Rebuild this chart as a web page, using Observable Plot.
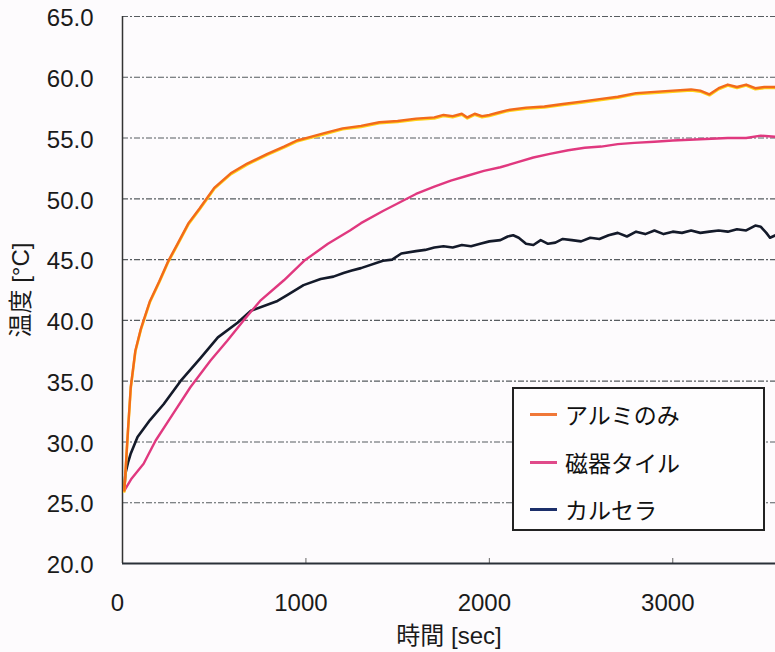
<!DOCTYPE html>
<html>
<head>
<meta charset="utf-8">
<script src="https://cdn.jsdelivr.net/npm/d3@7"></script>
<script src="https://cdn.jsdelivr.net/npm/@observablehq/plot@0.6"></script>
<style>
  html, body { margin: 0; padding: 0; background: #fdfbfd; overflow: hidden; }
  #wrap { position: relative; width: 775px; height: 652px; }
  #legend {
    position: absolute; left: 512px; top: 387px; width: 249px; height: 140px;
    border: 2px solid #222; background: #fefdfe;
    font-family: "Noto Sans CJK JP", "Liberation Sans", sans-serif; font-size: 23px; color: #111;
  }
  .item { position: absolute; left: 16px; display: flex; align-items: center; height: 30px; }
  .swatch { width: 27px; height: 3px; margin-right: 8px; }
</style>
</head>
<body>
<div id="wrap"><div id="chart"></div><div id="legend"></div></div>
<script>
// ---- data ----
const seriesNames = ["アルミのみ", "磁器タイル", "カルセラ"];
const seriesColors = ["#f26a1b", "#e0387f", "#141a2a"];
const legendColors = ["#f07838", "#e04a8a", "#1c2f6a"];

const alumiTime = [10, 20, 30, 45, 70, 100, 115, 150, 200, 250, 300, 360, 420, 500, 590, 680, 790, 880, 950, 1000, 1100, 1200, 1300, 1400, 1500, 1600, 1700, 1750, 1800, 1850, 1880, 1920, 1960, 2000, 2050, 2100, 2200, 2300, 2400, 2500, 2600, 2700, 2800, 2900, 3000, 3100, 3150, 3200, 3250, 3300, 3350, 3400, 3450, 3500, 3560];
const alumiTemp = [26.0, 28.5, 31.0, 34.5, 37.5, 39.3, 40.0, 41.6, 43.2, 44.9, 46.3, 48.0, 49.2, 50.9, 52.1, 52.9, 53.7, 54.3, 54.8, 55.0, 55.4, 55.8, 56.0, 56.3, 56.4, 56.6, 56.7, 56.9, 56.8, 57.0, 56.7, 57.0, 56.8, 56.9, 57.1, 57.3, 57.5, 57.6, 57.8, 58.0, 58.2, 58.4, 58.7, 58.8, 58.9, 59.0, 58.9, 58.6, 59.1, 59.4, 59.2, 59.4, 59.1, 59.2, 59.2];

const tileTime = [10, 50, 115, 180, 262, 370, 480, 570, 660, 750, 880, 990, 1120, 1240, 1300, 1420, 1510, 1600, 1700, 1790, 1880, 1970, 2060, 2150, 2240, 2330, 2430, 2520, 2610, 2700, 2790, 2900, 3000, 3150, 3300, 3400, 3480, 3560];
const tileTemp = [26.0, 27.0, 28.2, 30.1, 32.0, 34.5, 36.7, 38.3, 40.0, 41.6, 43.3, 44.9, 46.3, 47.4, 48.0, 49.0, 49.7, 50.4, 51.0, 51.5, 51.9, 52.3, 52.6, 53.0, 53.4, 53.7, 54.0, 54.2, 54.3, 54.5, 54.6, 54.7, 54.8, 54.9, 55.0, 55.0, 55.2, 55.1];

const carTime = [10, 16, 30, 44, 82, 150, 224, 316, 425, 520, 627, 700, 845, 900, 987, 1080, 1150, 1205, 1250, 1300, 1420, 1470, 1520, 1600, 1650, 1700, 1750, 1800, 1850, 1900, 1950, 2000, 2060, 2100, 2130, 2160, 2200, 2240, 2280, 2320, 2360, 2400, 2450, 2500, 2550, 2600, 2650, 2700, 2750, 2800, 2850, 2900, 2950, 3000, 3050, 3100, 3150, 3200, 3250, 3300, 3350, 3400, 3450, 3480, 3510, 3530, 3560];
const carTemp = [26.2, 27.4, 28.3, 29.0, 30.4, 31.8, 33.1, 35.0, 36.9, 38.6, 39.8, 40.8, 41.6, 42.1, 42.9, 43.4, 43.6, 43.9, 44.1, 44.3, 44.9, 45.0, 45.5, 45.7, 45.8, 46.0, 46.1, 46.0, 46.2, 46.1, 46.3, 46.5, 46.6, 46.9, 47.0, 46.8, 46.3, 46.2, 46.6, 46.3, 46.4, 46.7, 46.6, 46.5, 46.8, 46.7, 47.0, 47.2, 46.9, 47.3, 47.1, 47.4, 47.1, 47.3, 47.2, 47.4, 47.2, 47.3, 47.4, 47.3, 47.5, 47.4, 47.8, 47.7, 47.2, 46.8, 47.0];

const xTicks = [0, 1000, 2000, 3000];
const xInnerTicks = [1000, 2000, 3000];
const yTicks = [20, 25, 30, 35, 40, 45, 50, 55, 60, 65];
const yGrid = [25, 30, 35, 40, 45, 50, 55, 60, 65];
const xLabel = "時間 [sec]";
const yLabel = "温度 [°C]";

// ---- build rows ----
const toRows = (name, ts, vs) => ts.map((t, i) => ({series: name, t, v: vs[i]}));
const alumi = toRows(seriesNames[0], alumiTime, alumiTemp);
const tile = toRows(seriesNames[1], tileTime, tileTemp);
const car = toRows(seriesNames[2], carTime, carTemp);

const chart = Plot.plot({
  width: 775,
  height: 652,
  marginLeft: 122,
  marginRight: 0,
  marginTop: 16,
  marginBottom: 89,
  style: {
    fontFamily: "'Liberation Sans', 'Noto Sans CJK JP', sans-serif",
    fontSize: "24px",
    background: "#fdfbfd",
    color: "#1a1a1a",
    overflow: "visible"
  },
  x: {domain: [0, 3560]},
  y: {domain: [20, 65]},
  marks: [
    Plot.gridY(yGrid, {stroke: "#3a3f44", strokeOpacity: 0.85, strokeWidth: 1.1, strokeDasharray: "6,2,2,2"}),
    Plot.axisY({ticks: yTicks, tickFormat: d3.format(".1f"), tickSize: 0, tickPadding: 29, dy: 2,
      label: yLabel, labelAnchor: "center", labelOffset: 111, labelArrow: "none"}),
    Plot.axisX({ticks: xTicks, tickFormat: d3.format("d"), tickSize: 0, tickPadding: 30, dx: -5,
      label: xLabel, labelAnchor: "center", labelOffset: 80, labelArrow: "none"}),
    Plot.axisX({ticks: xInnerTicks, tickSize: -5, tickFormat: () => "", label: null, stroke: "#666"}),
    Plot.ruleX([0], {stroke: "#333", strokeWidth: 1.5}),
    Plot.ruleY([20], {stroke: "#2a3038", strokeWidth: 2}),
    Plot.line(car, {x: "t", y: "v", stroke: seriesColors[2], strokeWidth: 2.6, curve: "linear"}),
    Plot.line(tile, {x: "t", y: "v", stroke: seriesColors[1], strokeWidth: 2.4, curve: "linear"}),
    Plot.line(alumi, {x: "t", y: "v", stroke: "#ffd21a", strokeWidth: 2.6, dy: 1, curve: "linear"}),
    Plot.line(alumi, {x: "t", y: "v", stroke: seriesColors[0], strokeWidth: 2.4, curve: "linear"})
  ]
});
document.getElementById("chart").appendChild(chart);

// ---- legend ----
const legend = document.getElementById("legend");
const rowTops = [10, 58, 105];
seriesNames.forEach((name, i) => {
  const item = document.createElement("div");
  item.className = "item";
  item.style.top = rowTops[i] + "px";
  const sw = document.createElement("span");
  sw.className = "swatch";
  sw.style.background = legendColors[i];
  const tx = document.createElement("span");
  tx.textContent = name;
  item.appendChild(sw);
  item.appendChild(tx);
  legend.appendChild(item);
});
</script>
</body>
</html>
